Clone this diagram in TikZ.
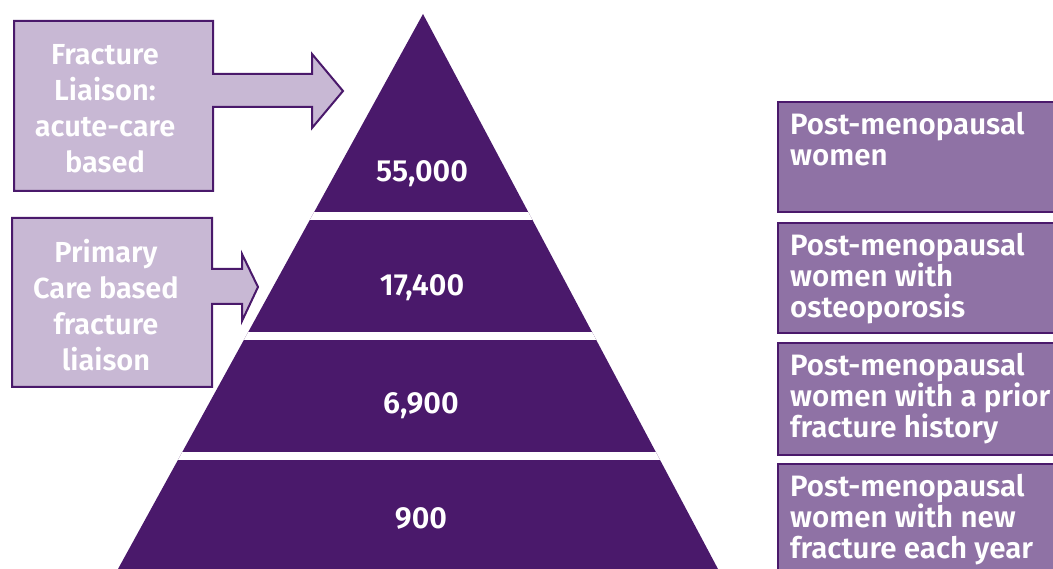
\documentclass[tikz,border=0pt]{standalone}
\usepackage{fontspec}
\setmainfont{Fira Sans}[BoldFont={Fira Sans SemiBold}]
\definecolor{pdark}{RGB}{74,25,107}
\definecolor{plight}{RGB}{200,184,212}
\definecolor{pmid}{RGB}{143,114,165}
\tikzset{
  numlabel/.style={text=white, font={\fontsize{30.5}{32}\selectfont\bfseries}, inner sep=0pt},
  ltext/.style={text=white, align=center, font={\fontsize{29}{36}\selectfont\bfseries}, inner sep=0pt},
  rbox/.style={draw=pdark, line width=2pt, fill=pmid, anchor=north west, minimum width=300pt, inner sep=0pt},
  rtext/.style={text=white, align=left, anchor=north west, font={\fontsize{29.5}{30.8}\selectfont\bfseries}, inner sep=0pt},
  lshape/.style={draw=pdark, line width=2pt, fill=plight, line join=miter}
}
\begin{document}
\begin{tikzpicture}[x=1pt,y=-1pt]
\clip (0,0) rectangle (1053,569);
% pyramid
\fill[pdark] (423,14) -- (718,569) -- (118,569) -- cycle;
\begin{scope}
\clip (423,14) -- (718,569) -- (118,569) -- cycle;
\fill[white] (100,212) rectangle (740,220);
\fill[white] (100,332) rectangle (740,340);
\fill[white] (100,452) rectangle (740,460);
\end{scope}
\node[numlabel] (n1) at (422,174) {55,000};
\node[numlabel] (n2) at (422,288) {17,400};
\node[numlabel] (n3) at (421,406) {6,900};
\node[numlabel] (n4) at (421,518) {900};
% left arrow boxes
\draw[lshape] (14,21) -- (213,21) -- (213,74) -- (312,74) -- (312,54) -- (343,91) -- (312,128) -- (312,107) -- (213,107) -- (213,191) -- (14,191) -- cycle;
\node[ltext] (l1) at (105,109) {Fracture\\Liaison:\\acute-care\\based};
\draw[lshape] (12,218) -- (212,218) -- (212,269) -- (242,269) -- (242,254) -- (258,287) -- (242,321) -- (242,304) -- (212,304) -- (212,387) -- (12,387) -- cycle;
\node[ltext] (l2) at (106,305) {Primary\\Care based\\fracture\\liaison};
% right boxes
\node[rbox, minimum height=110pt] (r1) at (777,101) {};
\node[rbox, minimum height=110pt] (r2) at (777,222) {};
\node[rbox, minimum height=112pt] (r3) at (777,342) {};
\node[rbox, minimum height=140pt] (r4) at (777,463) {};
\node[rtext] (t1) at ([shift={(13,11)}]r1.north west) {Post-menopausal\\women};
\node[rtext] (t2) at ([shift={(13,11)}]r2.north west) {Post-menopausal\\women with\\osteoporosis};
\node[rtext] (t3) at ([shift={(13,11)}]r3.north west) {Post-menopausal\\women with a prior\\fracture history};
\node[rtext] (t4) at ([shift={(13,11)}]r4.north west) {Post-menopausal\\women with new\\fracture each year};
\end{tikzpicture}
\end{document}
